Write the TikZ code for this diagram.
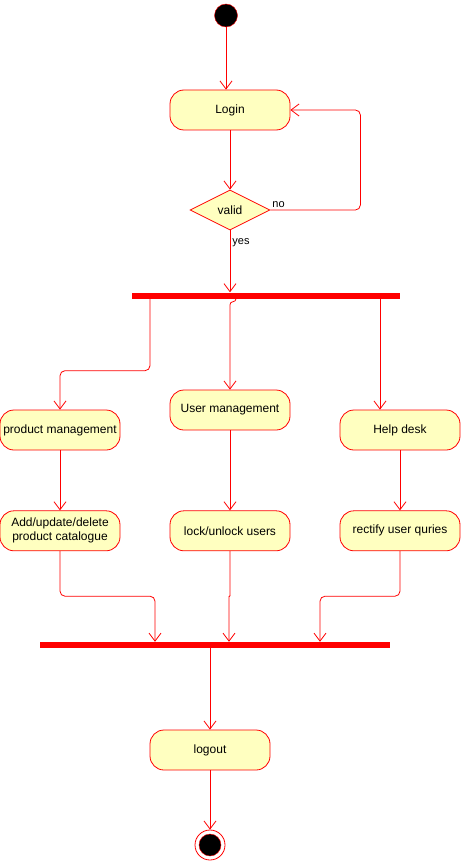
\documentclass[tikz,border=0pt]{standalone}
\usepackage{fontspec}
\setmainfont{Liberation Sans}
\usetikzlibrary{positioning, arrows.meta, shapes.geometric}
\definecolor{umlred}{HTML}{FF0000}
\definecolor{umlfill}{HTML}{FFFFC0}

\begin{document}
\begin{tikzpicture}[x=1pt, y=-1pt, font=\fontsize{12}{14}\selectfont,
    action/.style={draw=umlred, fill=umlfill, line width=0.8pt, rounded corners=14pt,
        minimum width=120pt, minimum height=40pt, inner sep=1pt, align=center},
    bar/.style={fill=umlred, inner sep=0pt, minimum height=6pt},
    flow/.style={draw=umlred, line width=0.8pt, rounded corners=5pt,
        -{Straight Barb[length=8pt, width=12pt]}},
    guard/.style={font=\fontsize{11}{13}\selectfont, inner sep=2pt}]
    \useasboundingbox (0,0) rectangle (461,861);

    % Define nodes
    \node [circle, fill=black, draw=umlred, minimum size=23pt, inner sep=0pt] (start) at (226,15.5) {};
    \node [action] (login) at (230,110) {Login};
    \node [diamond, aspect=2, draw=umlred, fill=umlfill, line width=0.8pt, minimum width=80pt,
        minimum height=40pt, inner sep=0pt] (valid) at (230,210) {valid};
    \node [bar, minimum width=268pt] (fork) at (266,295.5) {};

    \node [action] (usermgmt) at (230,410) {User management};
    \node [action] (prodmgmt) at (60,430) {product management};
    \node [action] (helpdesk) at (400,430) {Help desk};
    \node [action, below=60pt of prodmgmt] (catalogue) {Add/update/delete\\product catalogue};
    \node [action, below=80pt of usermgmt] (lockusers) {lock/unlock users};
    \node [action, below=60pt of helpdesk] (rectify) {rectify user quries};

    \node [bar, minimum width=350pt] (join) at (215,645) {};
    \node [action] (logout) at (210,750) {logout};
    \node [circle, draw=umlred, fill=white, line width=0.8pt, minimum size=30pt, inner sep=0pt] (stop) at (210,845) {};
    \node [circle, fill=black, draw=umlred, minimum size=22pt, inner sep=0pt] (stopdot) at (stop) {};

    % Arrows from start to Login and the check
    \draw[flow] (start) -- (start |- login.north);
    \draw[flow] (login) -- (valid);
    \draw[flow] (valid.east) -- node[guard, pos=0.09, above]{no} ++(90,0) |- (login.east);
    \draw[flow] (valid.south) -- node[guard, pos=0.2, right]{yes} (valid.south |- fork.north);

    % Arrows from the fork bar
    \draw[flow] ([xshift=-116pt]fork.south) -- ++(0,72) -| (prodmgmt.north);
    \draw[flow, rounded corners=3pt] ([xshift=-30pt]fork.south) -- ++(0,3) -| (usermgmt.north);
    \draw[flow] ([xshift=114pt]fork.south) -- ([xshift=-20pt]helpdesk.north);

    \draw[flow] (prodmgmt) -- (catalogue);
    \draw[flow] (usermgmt) -- (lockusers);
    \draw[flow] (helpdesk) -- (rectify);

    % Arrows to the join bar
    \draw[flow] (catalogue.south) -- ++(0,45) -| ([xshift=-60pt]join.north);
    \draw[flow, rounded corners=0.6pt] (lockusers.south) -- ++(0,45) -| ([xshift=14pt]join.north);
    \draw[flow] (rectify.south) -- ++(0,45) -| ([xshift=105pt]join.north);

    \draw[flow] (join.south -| logout.north) -- (logout.north);
    \draw[flow] (logout) -- (stop);
\end{tikzpicture}
\end{document}
